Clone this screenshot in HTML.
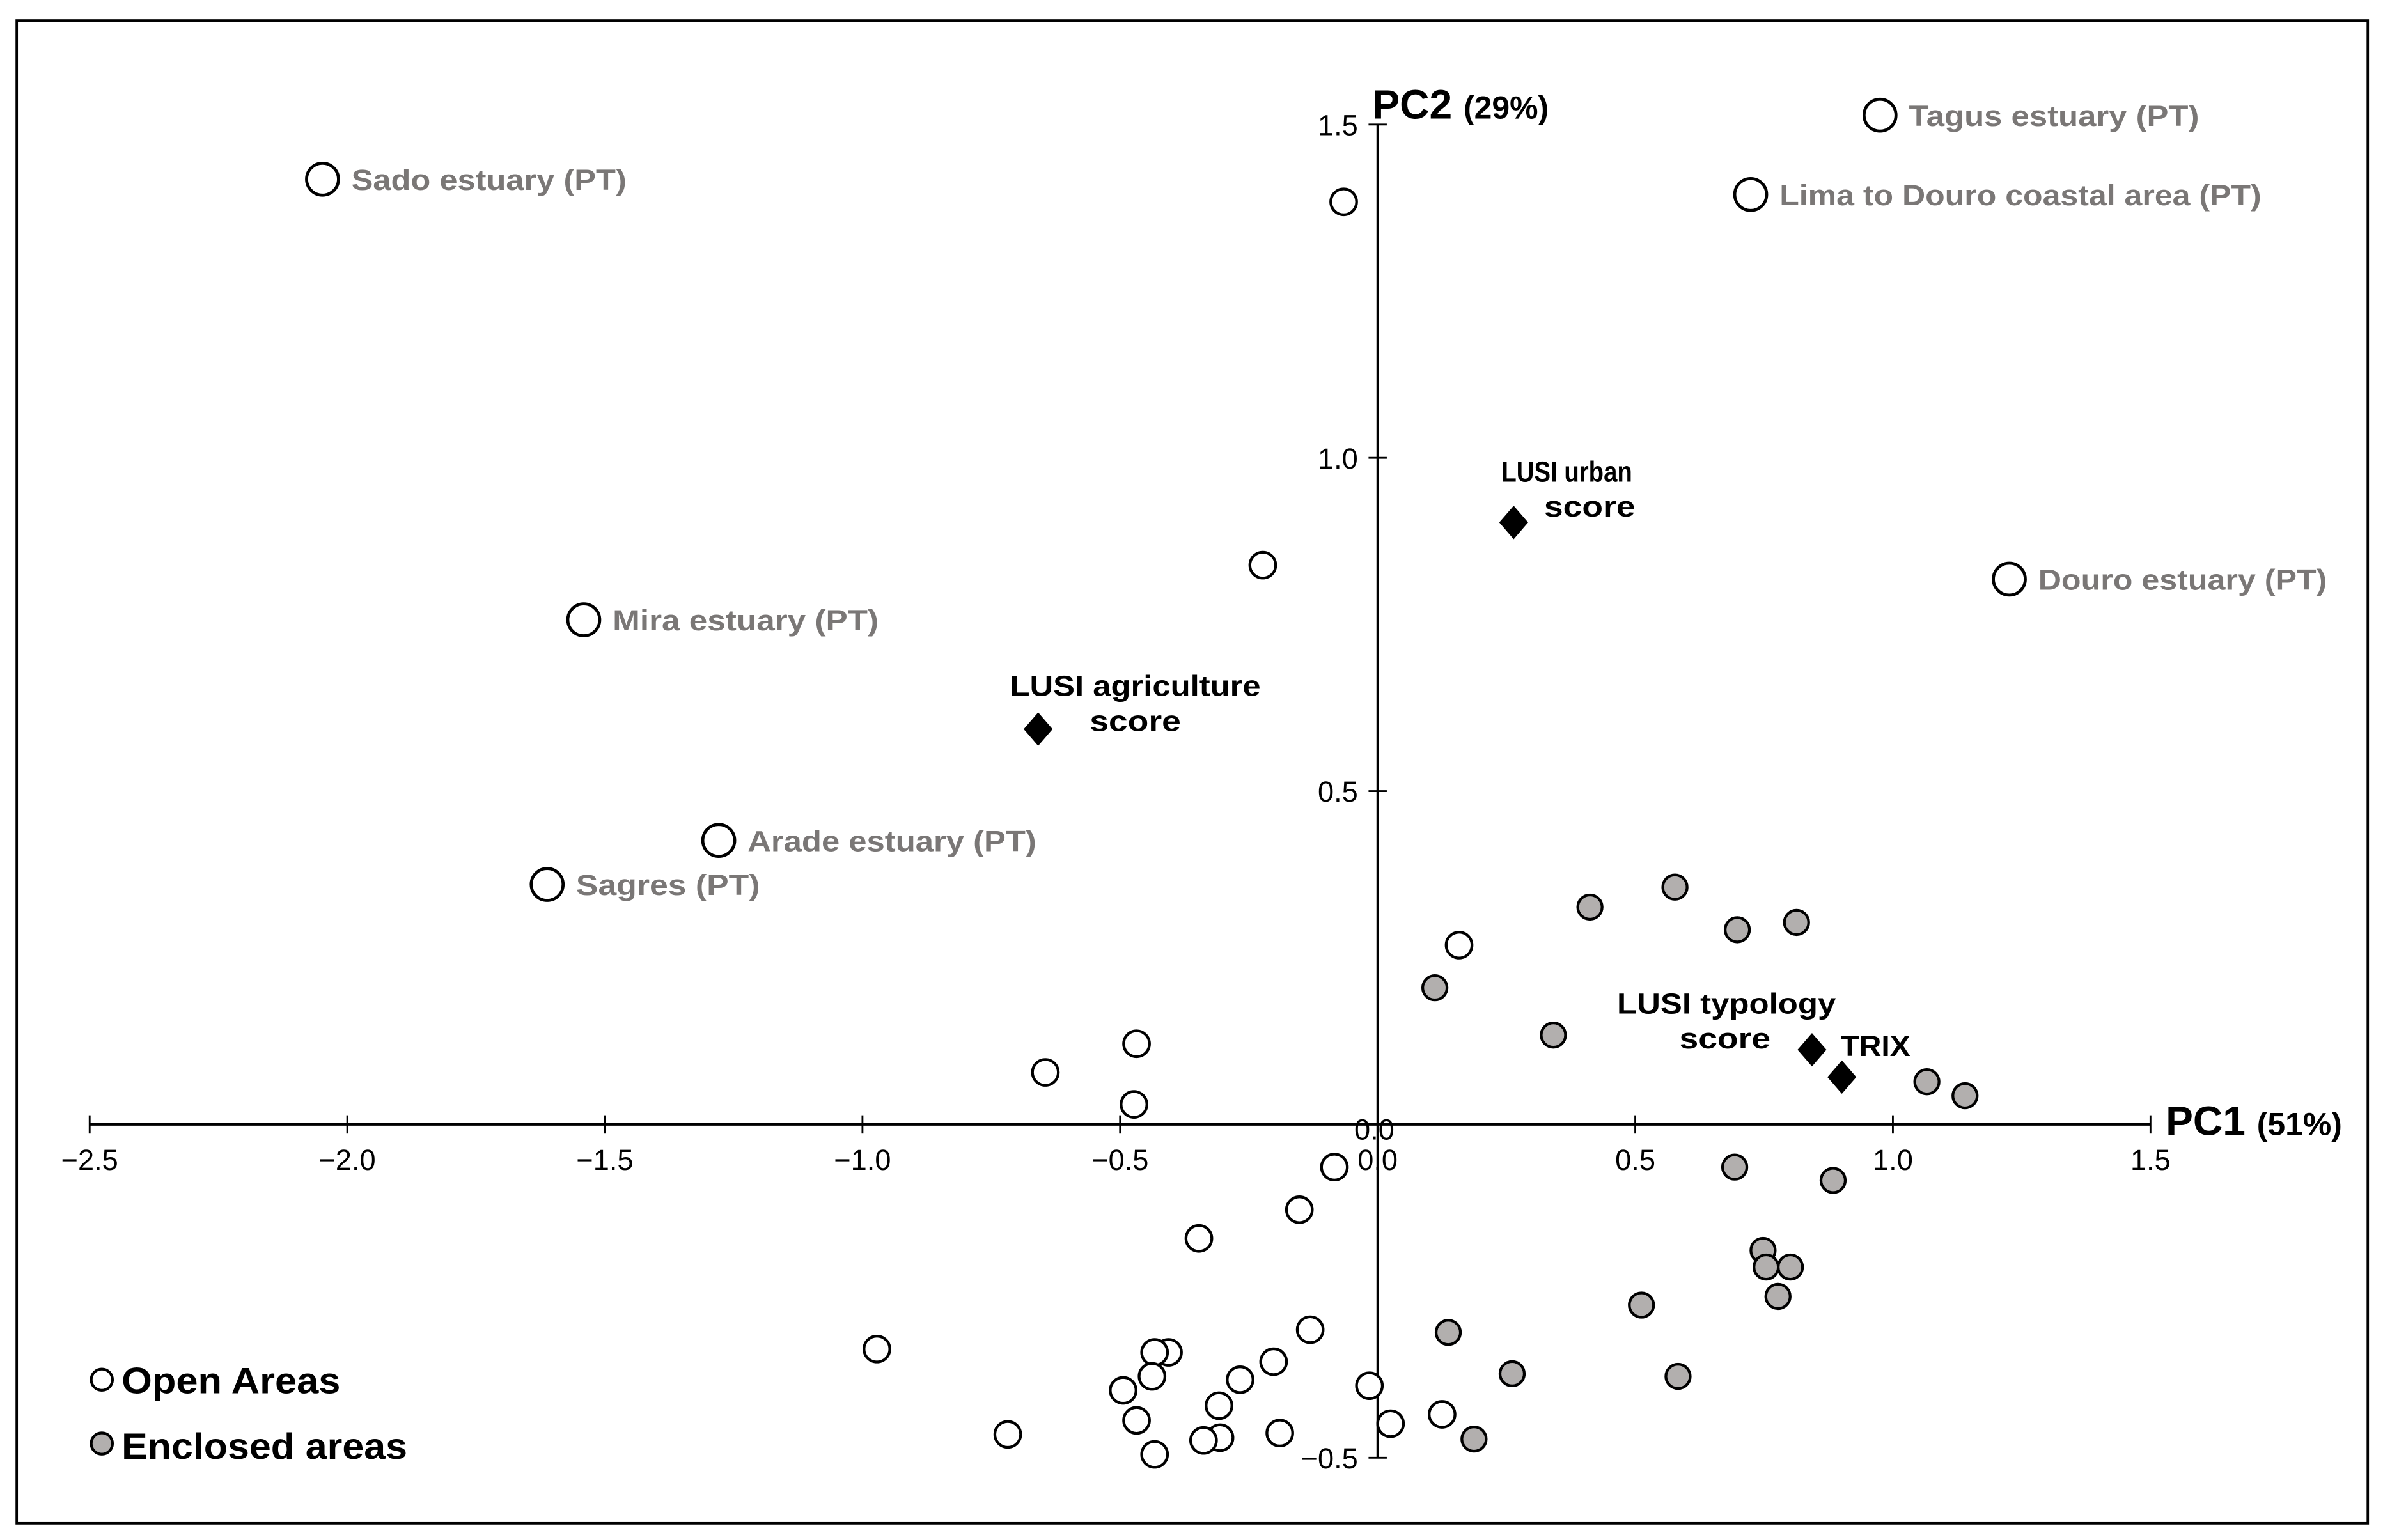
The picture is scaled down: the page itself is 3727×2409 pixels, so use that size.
<!DOCTYPE html>
<html><head><meta charset="utf-8">
<style>
html,body{margin:0;padding:0;background:#fff;}
svg{display:block;}
text{font-family:"Liberation Sans",Arial,sans-serif;}
</style></head>
<body>
<svg id="chart" width="3727" height="2409" viewBox="0 0 1568 1013.5" preserveAspectRatio="none" xmlns="http://www.w3.org/2000/svg">
<rect x="11" y="13.5" width="1547" height="989" fill="#fff" stroke="#000" stroke-width="1.6"/>
<g id="axes"></g>
<g id="marks"></g>
<g>
  <circle cx="67" cy="908" r="7" fill="#fff" stroke="#000" stroke-width="1.8"/>
  <text x="80" y="917" font-size="24" font-weight="bold" textLength="144" lengthAdjust="spacingAndGlyphs">Open Areas</text>
  <circle cx="67" cy="950" r="7" fill="#b2afae" stroke="#000" stroke-width="1.8"/>
  <text x="80" y="960" font-size="24" font-weight="bold" textLength="188" lengthAdjust="spacingAndGlyphs">Enclosed areas</text>
</g>
</svg>
<script>
const openLabeledNames = ["Sado estuary (PT)","Tagus estuary (PT)","Lima to Douro coastal area (PT)","Douro estuary (PT)","Mira estuary (PT)","Arade estuary (PT)","Sagres (PT)"];
const openLabeledX = [-2.048,0.975,0.724,1.226,-1.541,-1.279,-1.612];
const openLabeledY = [1.418,1.514,1.395,0.818,0.757,0.426,0.360];
const openX = [-0.066,-0.223,0.158,-0.468,-0.645,-0.473,-0.084,-0.152,-0.347,-0.972,-0.131,-0.202,-0.406,-0.433,-0.267,-0.438,-0.494,-0.308,-0.468,-0.016,0.025,0.125,-0.718,-0.190,-0.306,-0.338,-0.433];
const openY = [1.384,0.839,0.269,0.121,0.078,0.030,-0.064,-0.128,-0.171,-0.337,-0.308,-0.356,-0.342,-0.342,-0.383,-0.378,-0.399,-0.422,-0.444,-0.392,-0.449,-0.435,-0.465,-0.463,-0.470,-0.474,-0.495];
const enclosedX = [0.577,0.412,0.698,0.813,0.111,0.341,1.066,1.140,0.693,0.884,0.748,0.754,0.801,0.777,0.512,0.137,0.261,0.583,0.187];
const enclosedY = [0.356,0.326,0.292,0.303,0.205,0.134,0.064,0.043,-0.064,-0.084,-0.189,-0.214,-0.214,-0.258,-0.271,-0.312,-0.374,-0.378,-0.472];
const varNames = ["LUSI urban score","LUSI agriculture score","LUSI typology score","TRIX"];
const varX = [0.264,-0.659,0.843,0.901];
const varY = [0.903,0.593,0.112,0.071];
const xTicks = [-2.5,-2.0,-1.5,-1.0,-0.5,0.0,0.5,1.0,1.5];
const yTicks = [-0.5,0.0,0.5,1.0,1.5];
const xTickLabels = ["\u22122.5","\u22122.0","\u22121.5","\u22121.0","\u22120.5","0.0","0.5","1.0","1.5"];
const yTickLabels = ["\u22120.5","0.0","0.5","1.0","1.5"];

const NS="http://www.w3.org/2000/svg";
const sx = v => 906.5 + v*339;
const sy = v => 740 - v*438.7;
function mk(tag, parent, attrs){const e=document.createElementNS(NS,tag);for(const k in attrs)e.setAttribute(k,attrs[k]);parent.appendChild(e);return e;}
const axes=document.getElementById('axes'), marks=document.getElementById('marks');

let e;
e=mk('line',axes,{x1:sx(-2.5),x2:sx(1.5),y1:sy(0),y2:sy(0),stroke:'#000','stroke-width':1.6});


e=mk('line',axes,{x1:sx(0),x2:sx(0),y1:sy(1.5),y2:sy(-0.5),stroke:'#000','stroke-width':1.6});


xTicks.forEach((t,i)=>{
  const l=mk('line',axes,{x1:sx(t),x2:sx(t),y1:sy(0)-6,y2:sy(0)+6,stroke:'#000','stroke-width':1.2});
  
  
  const tx=mk('text',axes,{x:sx(t),y:sy(0)+30,'font-size':19,'text-anchor':'middle'});
  tx.textContent=xTickLabels[i];
  
  
});
yTicks.forEach((t,i)=>{
  const l=mk('line',axes,{x1:sx(0)-6,x2:sx(0)+6,y1:sy(t),y2:sy(t),stroke:'#000','stroke-width':1.2});
  
  
  const tx=mk('text',axes,{x:sx(0)-(t===0?-11:13),y:sy(t)+(t===0?10:7),'font-size':19,'text-anchor':'end'});
  tx.textContent=yTickLabels[i];
  
  
});
let at=mk('text',axes,{x:903,y:78,'font-size':27,'font-weight':'bold'});
at.innerHTML='PC2 <tspan font-size="21">(29%)</tspan>';


at=mk('text',axes,{x:1425,y:747,'font-size':27,'font-weight':'bold'});
at.innerHTML='PC1 <tspan font-size="21">(51%)</tspan>';



openX.forEach((x,i)=>{
  const c=mk('circle',marks,{cx:sx(x),cy:sy(openY[i]),r:8.5,fill:'#fff',stroke:'#000','stroke-width':1.8});
  
  
});
enclosedX.forEach((x,i)=>{
  const c=mk('circle',marks,{cx:sx(x),cy:sy(enclosedY[i]),r:8,fill:'#b2afae',stroke:'#000','stroke-width':1.8});
  
  
});
const lw=[181,191,317,190,175,190,121];
openLabeledX.forEach((x,i)=>{
  const cx=sx(x), cy=sy(openLabeledY[i]);
  const c=mk('circle',marks,{cx:cx,cy:cy,r:10.5,fill:'#fff',stroke:'#000','stroke-width':2});
  
  
  const t=mk('text',marks,{x:cx+19,y:cy+7,'font-size':19,'font-weight':'bold',fill:'#7a7776',textLength:lw[i],lengthAdjust:'spacingAndGlyphs'});
  t.textContent=openLabeledNames[i];
  
  
});
// variable diamonds and labels
const lblPos=[[[1031,317,'LUSI urban',86],[1046,340,'score',60]],[[747,458,'LUSI agriculture',165],[747,481,'score',60]],[[1136,667,'LUSI typology',144],[1135,690,'score',60]],[[1234,695,'TRIX',46]]];
varX.forEach((x,i)=>{
  const cx=sx(x), cy=sy(varY[i]);
  const d=mk('polygon',marks,{points:`${cx},${cy-11} ${cx+9.5},${cy} ${cx},${cy+11} ${cx-9.5},${cy}`,fill:'#000'});
  
  
  lblPos[i].forEach(p=>{
    const t=mk('text',marks,{x:p[0],y:p[1],'font-size':19,'font-weight':'bold','text-anchor':'middle',textLength:p[3],lengthAdjust:'spacingAndGlyphs'});
    t.textContent=p[2];
    
    
  });
});
</script>
</body></html>
